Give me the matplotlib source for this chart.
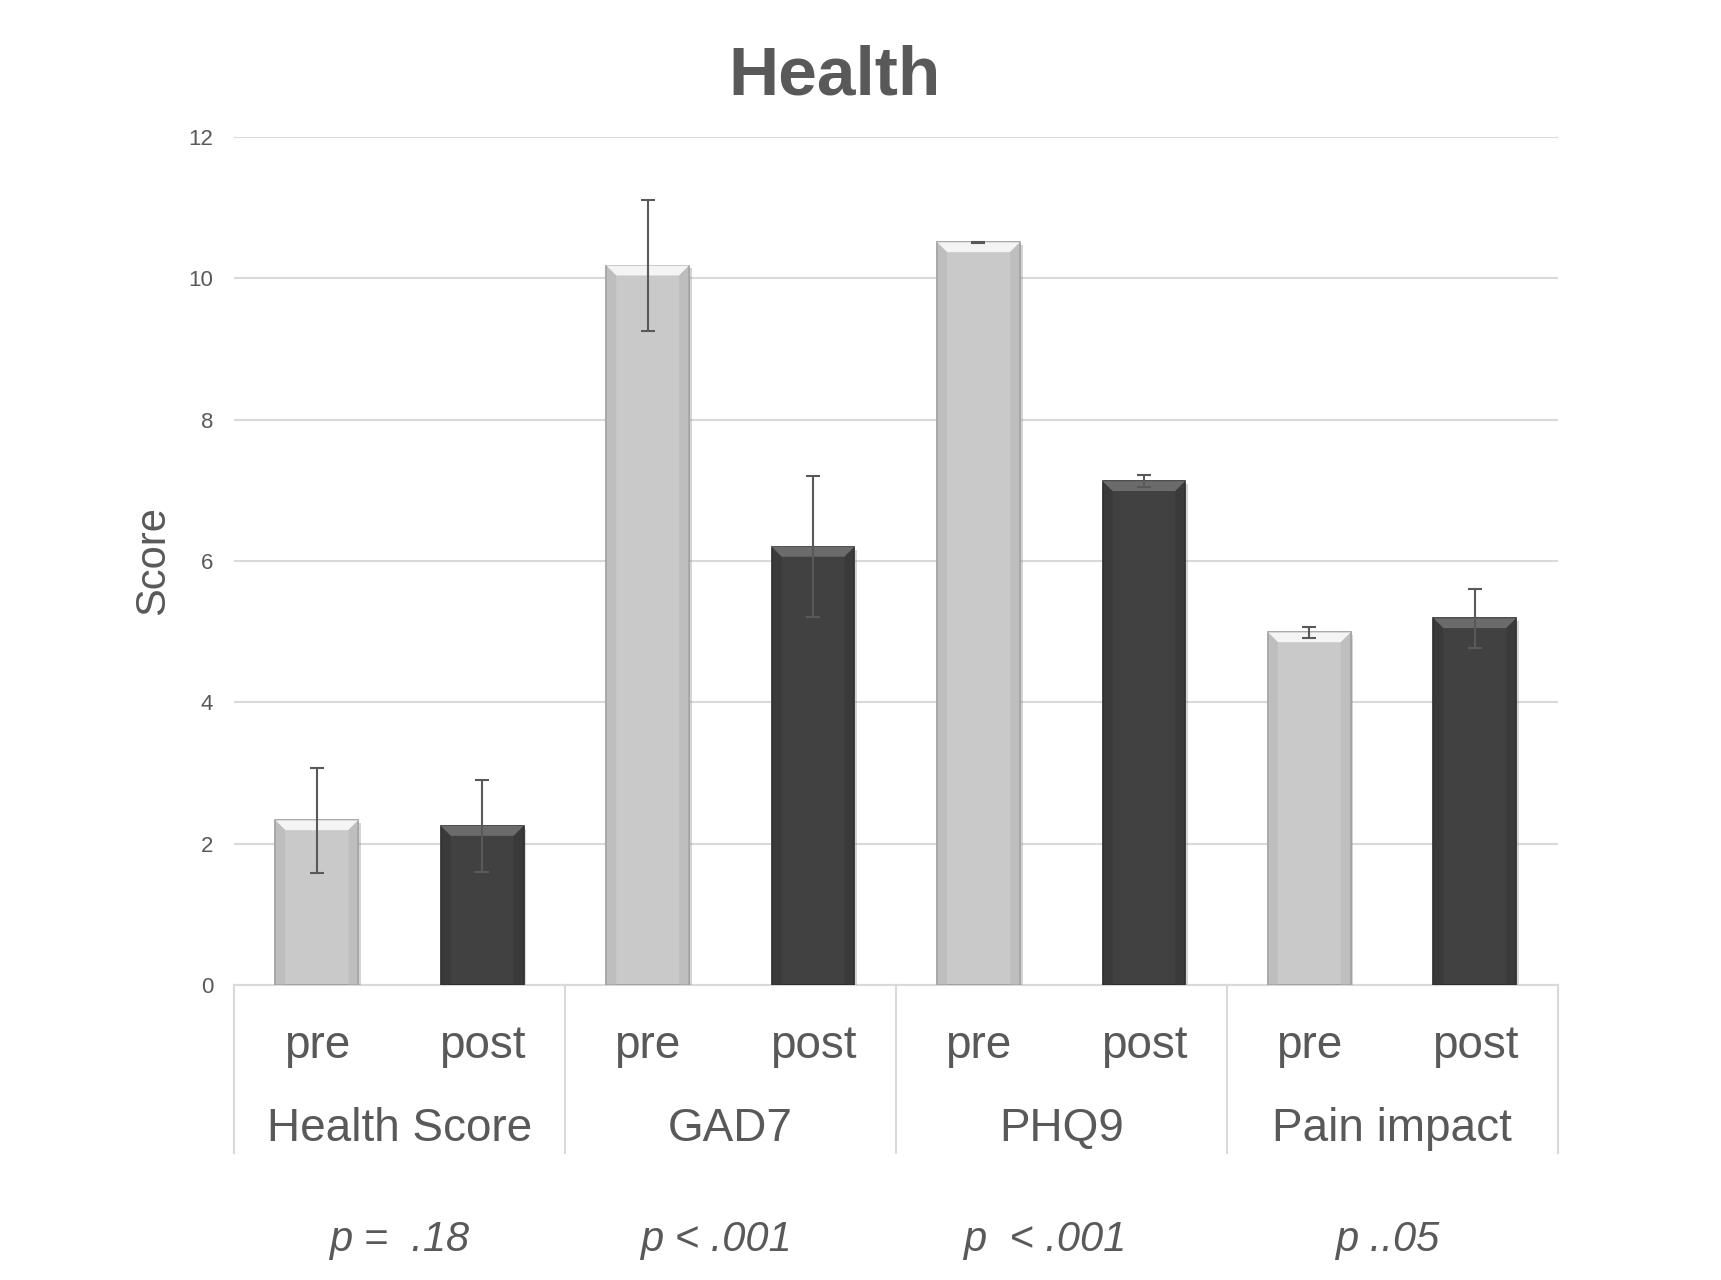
import matplotlib
matplotlib.use("Agg")
import matplotlib.pyplot as plt
import matplotlib.transforms as mtransforms
import matplotlib.patheffects as pe
from matplotlib.patches import Polygon

plt.rcParams["font.family"] = ["Liberation Sans", "DejaVu Sans"]

# ── data ──
groups = ["Health Score", "GAD7", "PHQ9", "Pain impact"]
phases = ["pre", "post"]
pre_means = [2.33, 10.18, 10.51, 4.99]
post_means = [2.25, 6.20, 7.13, 5.19]
pre_err = [0.74, 0.93, 0.01, 0.08]
post_err = [0.65, 1.00, 0.08, 0.42]
p_labels = ["p =  .18", "p < .001", "p  < .001", "p ..05"]
y_ticks = [0, 2, 4, 6, 8, 10, 12]

# ── colours ──
TEXT = "#595959"
GRID = "#d9d9d9"
LIGHT = "#c9c9c9"
DARK = "#414141"

fig = plt.figure(figsize=(17.21, 12.8), dpi=100, facecolor="white")
ax = fig.add_axes([0.136, 0.2305, 0.769, 0.6625])

n = len(groups)
x_pre = [2 * i for i in range(n)]
x_post = [2 * i + 1 for i in range(n)]

bar_kw = dict(width=0.5, zorder=3, linewidth=1.2)
shadow = [pe.SimplePatchShadow(offset=(2, -2), shadow_rgbFace="#888888", alpha=0.35), pe.Normal()]
b1 = ax.bar(x_pre, pre_means, color=LIGHT, edgecolor="#9a9a9a", **bar_kw)
b2 = ax.bar(x_post, post_means, color=DARK, edgecolor="#2b2b2b", **bar_kw)

# bevel on top and sides of each bar
for bars, top_col, side_col in [(b1, "#f4f4f4", "#b5b5b5"), (b2, "#6b6b6b", "#353535")]:
    for b in bars:
        b.set_path_effects(shadow)
        x, w, h = b.get_x(), b.get_width(), b.get_height()
        d, dh = 0.06, 0.14
        ax.add_patch(Polygon([(x, h), (x + w, h), (x + w - d, h - dh), (x + d, h - dh)],
                             closed=True, facecolor=top_col, edgecolor="none", zorder=4))
        for xs in [(x, x + d), (x + w, x + w - d)]:
            ax.add_patch(Polygon([(xs[0], 0), (xs[0], h), (xs[1], h - dh), (xs[1], 0)],
                                 closed=True, facecolor=side_col, edgecolor="none",
                                 alpha=0.5, zorder=4))

err_kw = dict(fmt="none", ecolor=TEXT, elinewidth=1.5, capsize=5, capthick=1.5, zorder=5)
ax.errorbar(x_pre, pre_means, yerr=pre_err, **err_kw)
ax.errorbar(x_post, post_means, yerr=post_err, **err_kw)

ax.set_xlim(-0.5, 2 * n - 0.5)
ax.set_ylim(0, 12)
ax.set_yticks(y_ticks)
ax.set_yticklabels([str(v) for v in y_ticks])
ax.tick_params(axis="y", length=0, pad=15, labelsize=16, labelcolor=TEXT)
ax.set_xticks([])
ax.grid(axis="y", color=GRID, linewidth=1.5, zorder=0)
for s in ["top", "right", "left"]:
    ax.spines[s].set_visible(False)
ax.spines["bottom"].set_color(GRID)
ax.spines["bottom"].set_linewidth(1.5)
ax.set_axisbelow(True)

ax.set_ylabel("Score", fontsize=30, color=TEXT, labelpad=11)
fig.suptitle("Health", fontsize=50, fontweight="bold", color=TEXT, x=0.485, y=0.965)

# two-level category axis
trans = mtransforms.blended_transform_factory(ax.transData, ax.transAxes)
for i in range(n + 1):
    ax.plot([2 * i - 0.5, 2 * i - 0.5], [0, -0.198], transform=trans,
            color=GRID, linewidth=1.5, clip_on=False)
p_shift = [0.0, -0.09, -0.1, -0.03]
for i, g in enumerate(groups):
    for j, ph in enumerate(phases):
        ax.text(2 * i + j, -0.072, ph, transform=trans, ha="center", va="center",
                fontsize=33, color=TEXT)
    ax.text(2 * i + 0.5, -0.170, g, transform=trans, ha="center", va="center",
            fontsize=33, color=TEXT)
    ax.text(2 * i + 0.5 + p_shift[i], -0.301, p_labels[i], transform=trans,
            ha="center", va="center", fontsize=30, color=TEXT, style="italic")

fig.savefig("out.png", dpi=100, facecolor="white")
plt.close(fig)
